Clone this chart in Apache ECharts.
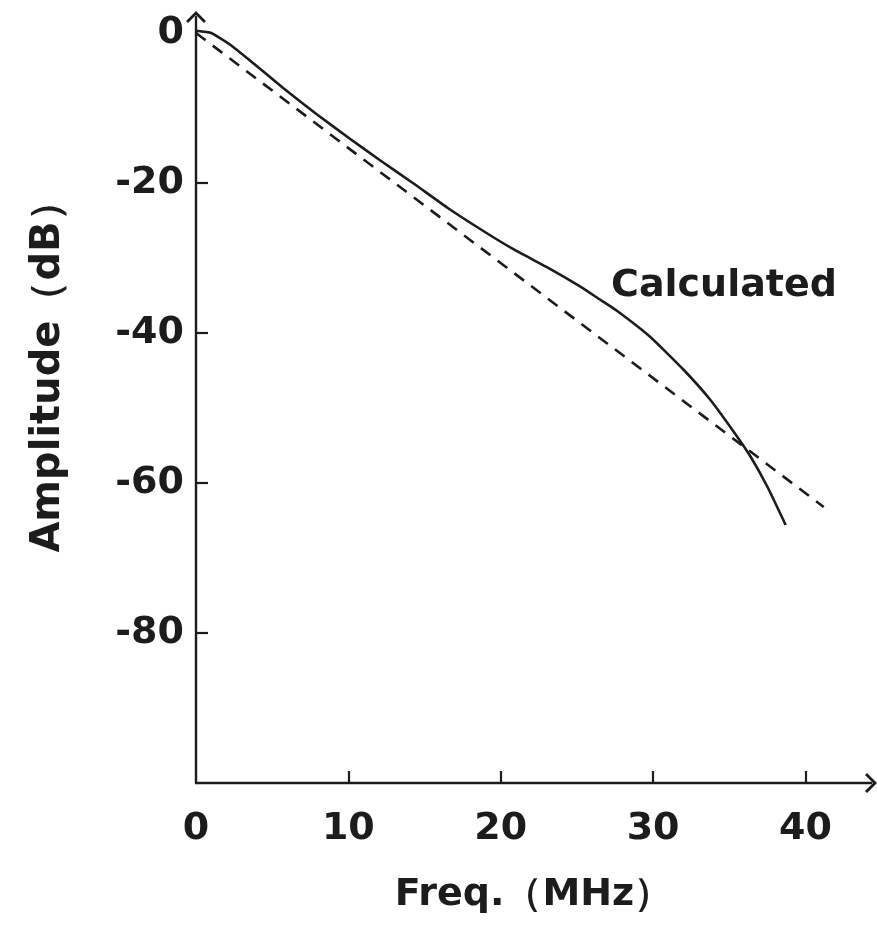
<!DOCTYPE html>
<html>
<head>
<meta charset="utf-8">
<script src="https://cdn.jsdelivr.net/npm/echarts@6/dist/echarts.min.js"></script>
<style>html,body{margin:0;padding:0;background:#fff;}#c{width:877px;height:929px;}</style>
</head>
<body>
<div id="c"></div>
<script>
// Data
var calcFreq = [0, 1, 2.2, 3.5, 5.7, 7.9, 10.1, 12.1, 14.3, 16.5, 18.7, 20.8, 23.0, 25.2, 26.4, 27.6, 29.8, 32.0, 33.75, 35.3, 36.4, 37.5, 38.7];
var calcAmp  = [0.3, 0.0, -1.5, -3.6, -7.3, -10.8, -14.1, -17.0, -20.1, -23.3, -26.2, -28.8, -31.2, -33.8, -35.4, -37.0, -40.5, -44.9, -48.9, -53.2, -56.5, -60.5, -65.6];
var refFreq = [0, 41.2];
var refAmp  = [0, -63.2];
var xTickLabels = [0, 10, 20, 30, 40];
var xTicks = [10, 20, 30, 40];
var yTickLabels = [0, -20, -40, -60, -80];
var yTicks = [-20, -40, -60, -80];
var xName = 'Freq.（MHz）';
var yName = 'Amplitude（dB）';
var seriesLabel = 'Calculated';

var ink = '#1c1c1c';
var font = '"DejaVu Sans", sans-serif';
var chevron = 'path://M9,0 L18,9 L16.2,10.8 L9,3.6 L1.8,10.8 L0,9 Z';

function zip(a, b) { return a.map(function (v, i) { return [v, b[i]]; }); }

var chart = echarts.init(document.getElementById('c'), null, {renderer: 'canvas'});
chart.setOption({
  animation: false,
  backgroundColor: '#ffffff',
  grid: {left: 196, top: 17, right: 6, bottom: 146, containLabel: false, outerBoundsMode: 'none'},
  xAxis: {
    type: 'value', min: 0, max: 44.3,
    name: xName, nameLocation: 'middle', nameGap: 93,
    nameTextStyle: {color: ink, fontFamily: font, fontWeight: 'bold', fontSize: 38},
    axisLine: {show: true, onZero: false, symbol: ['none', chevron], symbolSize: [20, 12], lineStyle: {color: ink, width: 2.4}},
    axisTick: {show: true, inside: true, length: 12, customValues: xTicks, lineStyle: {color: ink, width: 2.2}},
    axisLabel: {show: true, customValues: xTickLabels, margin: 27, color: ink, fontFamily: font, fontWeight: 'bold', fontSize: 38},
    splitLine: {show: false}
  },
  yAxis: {
    type: 'value', min: -100, max: 2.13,
    axisLine: {show: true, onZero: false, symbol: ['none', chevron], symbolSize: [20, 12], lineStyle: {color: ink, width: 2.4}},
    axisTick: {show: true, inside: true, length: 12, customValues: yTicks, lineStyle: {color: ink, width: 2.2}},
    axisLabel: {show: true, customValues: yTickLabels, margin: 12, color: ink, fontFamily: font, fontWeight: 'bold', fontSize: 38},
    splitLine: {show: false}
  },
  series: [
    {
      name: seriesLabel, type: 'line', data: zip(calcFreq, calcAmp),
      smooth: 0.15, symbol: 'none', lineStyle: {color: ink, width: 2.6}, z: 3
    },
    {
      name: 'Asymptote', type: 'line', data: zip(refFreq, refAmp),
      symbol: 'none', lineStyle: {color: ink, width: 2.6, type: [12, 9]}, z: 2
    }
  ],
  graphic: [
    {type: 'text', x: 49, y: 367, rotation: Math.PI / 2,
     style: {text: yName, font: 'bold 40px ' + font, fill: ink, textAlign: 'center', textVerticalAlign: 'middle'}},
    {type: 'text', x: 611, y: 286,
     style: {text: seriesLabel, font: 'bold 38px ' + font, fill: ink, textAlign: 'left', textVerticalAlign: 'middle'}}
  ]
});
</script>
</body>
</html>
